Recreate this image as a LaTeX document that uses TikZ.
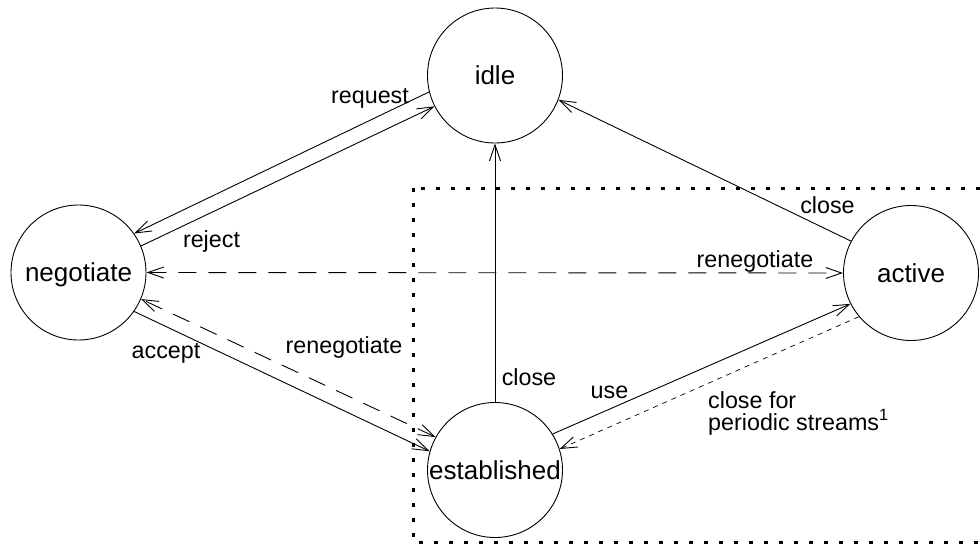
\documentclass[tikz,border=0pt]{standalone}
\usepackage{fontspec}
\setmainfont{Liberation Sans}
\usetikzlibrary{arrows.meta}
\begin{document}
\begin{tikzpicture}[x=1pt,y=-1pt,
  state/.style={circle,draw,line width=0.9pt,inner sep=0pt,minimum size=135pt,
    font=\fontsize{26}{30}\selectfont,text height=18pt,text depth=0pt},
  lbl/.style={font=\fontsize{23.3}{26}\selectfont,inner sep=0pt,anchor=base},
  tip/.style={-{Straight Barb[length=16pt,width=11pt,line width=0.9pt]}},
  tips/.style={{Straight Barb[length=16pt,width=11pt,line width=0.9pt]}-{Straight Barb[length=16pt,width=11pt,line width=0.9pt]}},
  edge/.style={line width=0.9pt},
  longdash/.style={dash pattern=on 18pt off 12pt},
  shortdash/.style={dash pattern=on 5pt off 5pt,line width=0.7pt}]
\useasboundingbox (0,0) rectangle (980,544);
\draw[line width=3pt,dash pattern=on 4pt off 11pt] (413,188) rectangle (1010,542);

\node[state] (idle) at (495,75.5) {idle};
\node[state] (neg) at (78.5,272.5) {negotiate};
\node[state] (est) at (495,470) {established};
\node[state] (act) at (911,273) {active};

\draw[edge,tip] (idle.194) -- (neg.35.6);
\draw[edge,tip] (neg.23.8) -- (idle.207.3);
\draw[edge,tips,longdash] (neg.0) -- (act.180);
\draw[edge,tip] (neg.-35.9) -- (est.164);
\draw[edge,tips,longdash] (est.151.6) -- (neg.-23);
\draw[edge,tip] (est.90) -- (idle.-90);
\draw[edge,tip] (act.152.4) -- (idle.-21.3);
\draw[edge,tip] (est.32.5) -- (act.207.3);
\draw[edge,tip,shortdash] (act.220.3) -- (est.18.7);

\node[lbl] (lreq) at (370,103) {request};
\node[lbl] (lrej) at (211.5,247) {reject};
\node[lbl] (lacc) at (166,358) {accept};
\node[lbl] (lren1) at (344,353) {renegotiate};
\node[lbl] (lren2) at (755,267) {renegotiate};
\node[lbl] (lclose1) at (529,385) {close};
\node[lbl] (lclose2) at (827.5,213) {close};
\node[lbl] (luse) at (609.5,398) {use};
\node[lbl,anchor=base west,align=left,font=\fontsize{23.3}{22}\selectfont] (lper) at (708,430) {close for\\periodic streams\textsuperscript{1}};
\end{tikzpicture}
\end{document}
